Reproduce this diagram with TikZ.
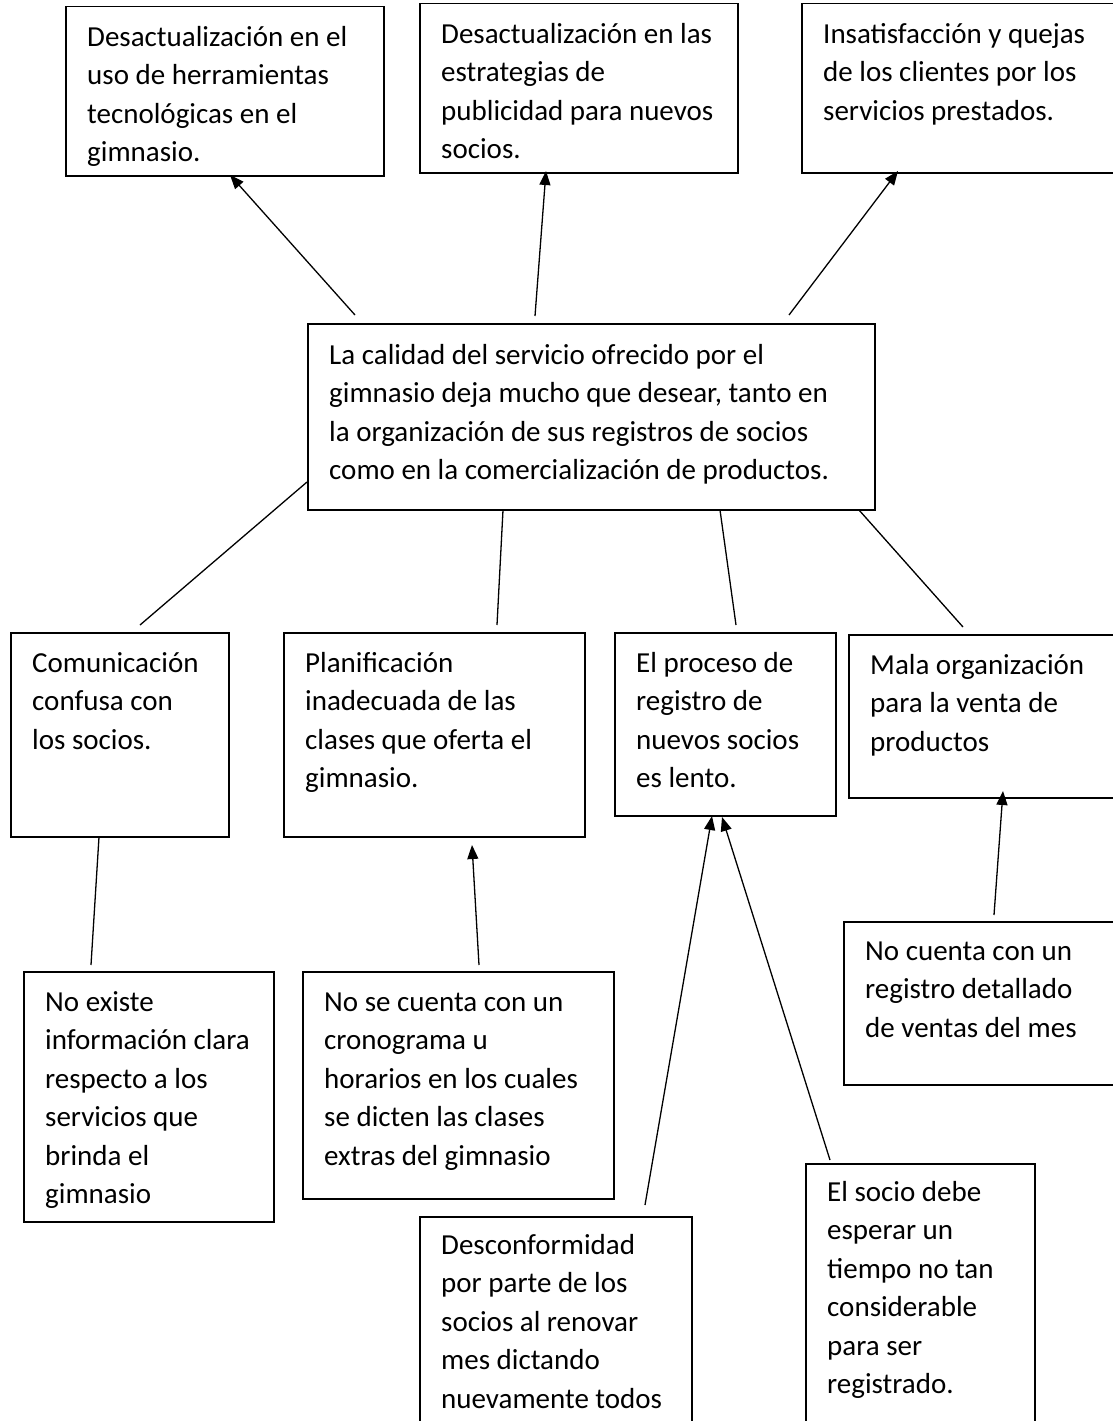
\documentclass[tikz,border=0pt]{standalone}
\usepackage{fontspec}
\setmainfont{Carlito}
\usetikzlibrary{arrows.meta}
\tikzset{
  bx/.style={draw, line width=1.5pt, inner sep=0pt, anchor=north west},
  tx/.style={inner sep=0pt, anchor=north west, font=\fontsize{29pt}{38.5pt}\selectfont},
  ln/.style={line width=1.3pt},
  ar/.style={ln, -{Triangle[length=14pt,width=11pt]}}
}
\newcommand{\mybox}[7]{%
  \node[bx, minimum width=#4pt, minimum height=#5pt] (#1) at (#2,#3) {};
  \node[tx] (#1t) at ([xshift=22pt]#1.north west) {\parbox[t]{500pt}{\raggedright\rule{0pt}{#6pt}#7}};}
\begin{document}
\begin{tikzpicture}[x=1pt,y=-1pt]
\useasboundingbox (0,0) rectangle (1113,1421);
\clip (0,0) rectangle (1113,1421);
\fill[white] (0,0) rectangle (1113,1421);
% top row
\mybox{tl}{65}{6}{318}{169}{40}{Desactualización en el\\uso de herramientas\\tecnológicas en el\\gimnasio.}
\mybox{tm}{419}{3}{318}{169}{40}{Desactualización en las\\estrategias de\\publicidad para nuevos\\socios.}
\mybox{tr}{801}{3}{340}{169}{40}{Insatisfacción y quejas\\de los clientes por los\\servicios prestados.}
% centre
\mybox{c}{307}{323}{567}{186}{41}{La calidad del servicio ofrecido por el\\gimnasio deja mucho que desear, tanto en\\la organización de sus registros de socios\\como en la comercialización de productos.}
% second row
\mybox{com}{10}{632}{218}{204}{40}{Comunicación\\confusa con\\los socios.}
\mybox{plan}{283}{632}{301}{204}{40}{Planificación\\inadecuada de las\\clases que oferta el\\gimnasio.}
\mybox{proc}{614}{632}{221}{183}{40}{El proceso de\\registro de\\nuevos socios\\es lento.}
\mybox{mala}{848}{634}{300}{163}{40}{Mala organización\\para la venta de\\productos}
% third row
\mybox{noex}{23}{971}{250}{250}{40}{No existe\\información clara\\respecto a los\\servicios que\\brinda el\\gimnasio}
\mybox{nose}{302}{971}{311}{227}{40}{No se cuenta con un\\cronograma u\\horarios en los cuales\\se dicten las clases\\extras del gimnasio}
\mybox{nocu}{843}{921}{300}{163}{39}{No cuenta con un\\registro detallado\\de ventas del mes}
\mybox{desc}{419}{1216}{272}{260}{38}{Desconformidad\\por parte de los\\socios al renovar\\mes dictando\\nuevamente todos}
\mybox{socio}{805}{1163}{229}{300}{38}{El socio debe\\esperar un\\tiempo no tan\\considerable\\para ser\\registrado.}
% connector ends
\coordinate (a1s) at (355,315); \coordinate (a1e) at (230,175);
\coordinate (a2s) at (535,316); \coordinate (a2e) at (546,171);
\coordinate (a3s) at (789,315); \coordinate (a3e) at (898,171);
\coordinate (l1s) at (307,482); \coordinate (l1e) at (140,625);
\coordinate (l2s) at (503,510); \coordinate (l2e) at (497,625);
\coordinate (l3s) at (720,510); \coordinate (l3e) at (736,625);
\coordinate (l4s) at (859,510); \coordinate (l4e) at (963,627);
\coordinate (c1s) at (91,965);  \coordinate (c1e) at (99,837);
\coordinate (c2s) at (479,965); \coordinate (c2e) at (472,845);
\coordinate (c3s) at (645,1205); \coordinate (c3e) at (712,816);
\coordinate (c4s) at (830,1160); \coordinate (c4e) at (722,817);
\coordinate (c5s) at (994,915); \coordinate (c5e) at (1003,791);
\draw[ar] (a1s) -- (a1e);
\draw[ar] (a2s) -- (a2e);
\draw[ar] (a3s) -- (a3e);
\draw[ln] (l1s) -- (l1e);
\draw[ln] (l2s) -- (l2e);
\draw[ln] (l3s) -- (l3e);
\draw[ln] (l4s) -- (l4e);
\draw[ln] (c1s) -- (c1e);
\draw[ar] (c2s) -- (c2e);
\draw[ar] (c3s) -- (c3e);
\draw[ar] (c4s) -- (c4e);
\draw[ar] (c5s) -- (c5e);
\end{tikzpicture}
\end{document}
